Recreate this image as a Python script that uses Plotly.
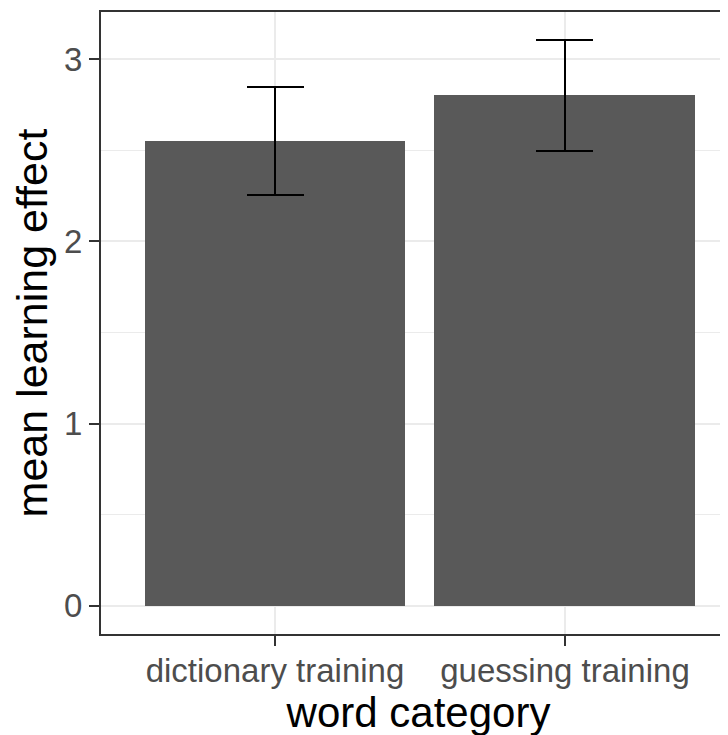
import plotly.graph_objects as go

categories = ["dictionary training", "guessing training"]
mean_effect = [2.55, 2.80]
error_half = [0.298, 0.307]
y_ticks = [0, 1, 2, 3]
x_title = "word category"
y_title = "mean learning effect"

FONT = "Liberation Sans, Arial, sans-serif"

fig = go.Figure()
fig.add_trace(go.Bar(
    x=categories, y=mean_effect, width=0.9,
    marker=dict(color="#595959", line=dict(width=0)),
    error_y=dict(type="data", array=error_half, symmetric=True,
                 color="black", thickness=2, width=28.5),
    showlegend=False,
))

fig.update_layout(
    width=728, height=735,
    margin=dict(l=93, r=0, t=4, b=109),
    paper_bgcolor="white", plot_bgcolor="white",
    font=dict(family=FONT),
    bargap=0,
)
fig.update_xaxes(
    type="category", range=[-0.6, 1.5897],
    showline=True, linecolor="#333333", linewidth=2, mirror=True,
    ticks="outside", ticklen=10, tickwidth=2, tickcolor="#333333",
    tickfont=dict(size=33, color="#4D4D4D", family=FONT),
    ticklabelstandoff=-4,
    showgrid=True, gridcolor="#EBEBEB", gridwidth=2,
    title=dict(text=x_title, font=dict(size=42, color="black", family=FONT), standoff=6),
    zeroline=False,
)
fig.update_yaxes(
    range=[-0.154, 3.258], tickvals=y_ticks,
    showline=True, linecolor="#333333", linewidth=2, mirror=False,
    ticks="outside", ticklen=10, tickwidth=2, tickcolor="#333333",
    tickfont=dict(size=33, color="#4D4D4D", family=FONT),
    showgrid=True, gridcolor="#EBEBEB", gridwidth=2,
    minor=dict(dtick=0.5, tick0=0, showgrid=True, gridcolor="#EBEBEB", gridwidth=1, ticks=""),
    title=dict(text=y_title, font=dict(size=43, color="black", family=FONT), standoff=10),
    zeroline=False,
)

fig.write_html("out.html")
